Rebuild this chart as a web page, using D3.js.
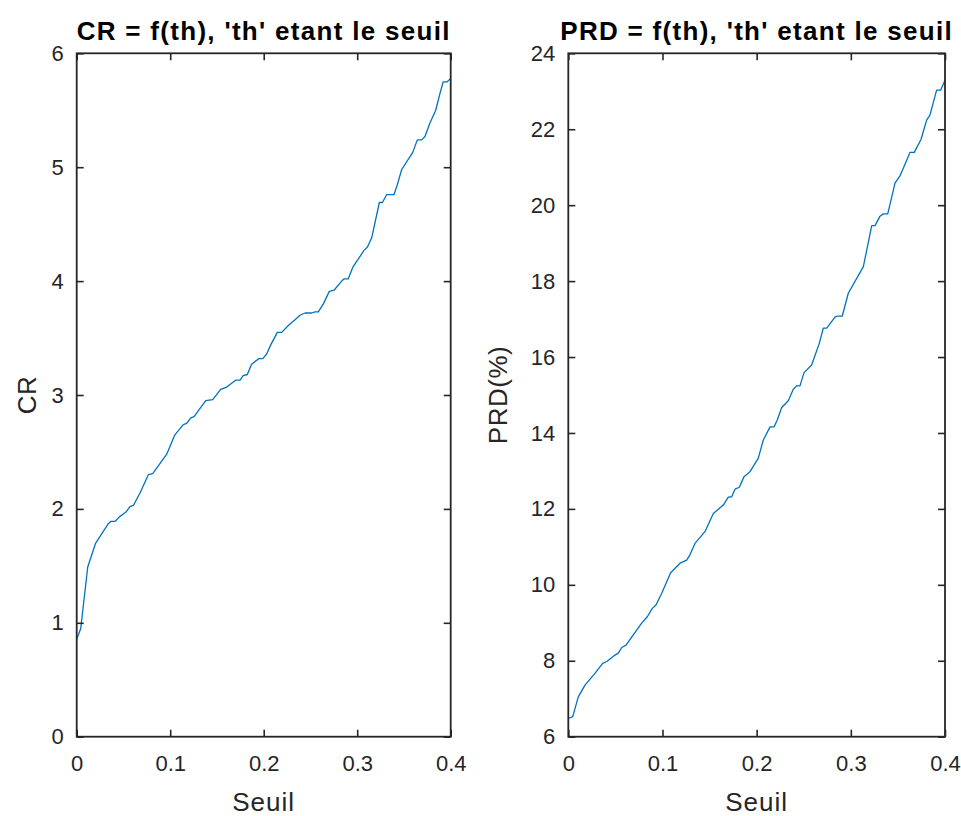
<!DOCTYPE html>
<html>
<head>
<meta charset="utf-8">
<script src="https://cdn.jsdelivr.net/npm/d3@7"></script>
<style>
  html, body { margin: 0; padding: 0; background: #ffffff; }
  svg { display: block; font-family: "Liberation Sans", Arial, Helvetica, sans-serif; }
</style>
</head>
<body>
<svg id="fig" width="961" height="816"></svg>
<script>
// Threshold sweep: compression ratio (CR) against threshold
const crThreshold = [0, 0.0043, 0.0118, 0.0203, 0.0338, 0.0364, 0.041, 0.0456, 0.0524, 0.057,
  0.0606, 0.0677, 0.0766, 0.0813, 0.0963, 0.105, 0.114, 0.1176, 0.122, 0.1255,
  0.138, 0.1455, 0.154, 0.1604, 0.170, 0.1747, 0.178, 0.1825, 0.187, 0.195,
  0.199, 0.2032, 0.2075, 0.2146, 0.2193, 0.2263, 0.2335, 0.2388, 0.2442, 0.2513,
  0.2549, 0.2584, 0.2638, 0.2702, 0.2752, 0.2834, 0.2862, 0.2905, 0.2952, 0.3073,
  0.311, 0.3155, 0.3237, 0.327, 0.3316, 0.3394, 0.3423, 0.3476, 0.3594, 0.3643,
  0.369, 0.3725, 0.3779, 0.384, 0.3886, 0.392, 0.3963, 0.400];
const crValues = [0.855, 0.95, 1.49, 1.70, 1.87, 1.89, 1.89, 1.93, 1.97, 2.02,
  2.03, 2.14, 2.30, 2.31, 2.48, 2.65, 2.74, 2.75, 2.80, 2.81,
  2.95, 2.96, 3.05, 3.07, 3.13, 3.13, 3.17, 3.18, 3.27, 3.32,
  3.32, 3.36, 3.44, 3.55, 3.55, 3.61, 3.66, 3.70, 3.72, 3.72,
  3.73, 3.73, 3.80, 3.91, 3.92, 4.00, 4.02, 4.02, 4.12, 4.27,
  4.30, 4.38, 4.69, 4.69, 4.76, 4.76, 4.83, 4.98, 5.13, 5.24,
  5.24, 5.27, 5.39, 5.50, 5.65, 5.75, 5.75, 5.78];

// Threshold sweep: percentage root-mean-square difference (PRD) against threshold
const prdThreshold = [0, 0.0047, 0.0106, 0.0177, 0.0283, 0.0365, 0.0408, 0.0496, 0.0531, 0.0567,
  0.0613, 0.069, 0.0779, 0.0839, 0.0892, 0.0931, 0.0992, 0.1087, 0.1186, 0.1257,
  0.1292, 0.1345, 0.1451, 0.154, 0.1646, 0.1699, 0.1735, 0.177, 0.1816, 0.1866,
  0.1929, 0.2017, 0.207, 0.2142, 0.2184, 0.2219, 0.2266, 0.2336, 0.2389, 0.2425,
  0.246, 0.2503, 0.2584, 0.2665, 0.2708, 0.2744, 0.2832, 0.2857, 0.2909, 0.2973,
  0.3133, 0.3222, 0.3257, 0.331, 0.3345, 0.3392, 0.3469, 0.3522, 0.3628, 0.3674,
  0.3745, 0.3805, 0.384, 0.3911, 0.3954, 0.40];
const prdValues = [6.48, 6.53, 7.05, 7.36, 7.67, 7.93, 7.98, 8.15, 8.20, 8.35,
  8.41, 8.68, 8.99, 9.16, 9.38, 9.47, 9.78, 10.32, 10.57, 10.65,
  10.79, 11.09, 11.40, 11.88, 12.10, 12.31, 12.32, 12.52, 12.57, 12.85,
  12.98, 13.33, 13.81, 14.16, 14.16, 14.34, 14.67, 14.85, 15.15, 15.24,
  15.24, 15.59, 15.79, 16.36, 16.76, 16.76, 17.05, 17.08, 17.08, 17.68,
  18.38, 19.46, 19.46, 19.71, 19.77, 19.77, 20.58, 20.77, 21.39, 21.39,
  21.73, 22.24, 22.37, 23.03, 23.03, 23.29];

// Tick values and labels
const xTicks = [0, 0.1, 0.2, 0.3, 0.4];
const xTickLabels = ["0", "0.1", "0.2", "0.3", "0.4"];
const crTicks = [0, 1, 2, 3, 4, 5, 6];
const prdTicks = [6, 8, 10, 12, 14, 16, 18, 20, 22, 24];

const titles = ["CR = f(th), 'th' etant le seuil", "PRD = f(th), 'th' etant le seuil"];
const yLabels = ["CR", "PRD(%)"];
const xLabel = "Seuil";

const axisColor = "#262626";
const lineColor = "#0072BD";

const svg = d3.select("#fig");

function panel(opts) {
  const { left, right, top, bottom, xs, ys, yDomain, yTicks, title, yLabel, yLabelX } = opts;
  const x = d3.scaleLinear().domain([0, 0.4]).range([left, right]);
  const y = d3.scaleLinear().domain(yDomain).range([bottom, top]);
  const g = svg.append("g");

  // curve
  const pts = xs.map((v, i) => [v, ys[i]]);
  g.append("path")
    .datum(pts)
    .attr("fill", "none")
    .attr("stroke", lineColor)
    .attr("stroke-width", 1.3)
    .attr("stroke-linejoin", "round")
    .attr("d", d3.line().x(d => x(d[0])).y(d => y(d[1])));

  const fmtX = d => xTickLabels[xTicks.indexOf(d)];
  const styleAxis = sel => {
    sel.select(".domain").remove();
    sel.selectAll(".tick line").attr("stroke", axisColor).attr("stroke-width", 1.6);
    sel.selectAll(".tick text").attr("fill", axisColor).style("font-size", "22px");
  };

  g.append("g").attr("transform", `translate(0,${bottom})`)
    .call(d3.axisBottom(x).tickValues(xTicks).tickFormat(fmtX).tickSize(-7).tickPadding(19))
    .call(styleAxis);
  g.append("g").attr("transform", `translate(0,${top})`)
    .call(d3.axisTop(x).tickValues(xTicks).tickFormat("").tickSize(-7))
    .call(styleAxis);
  g.append("g").attr("transform", `translate(${left},0)`)
    .call(d3.axisLeft(y).tickValues(yTicks).tickFormat(d3.format("d")).tickSize(-7).tickPadding(13))
    .call(styleAxis);
  g.append("g").attr("transform", `translate(${right},0)`)
    .call(d3.axisRight(y).tickValues(yTicks).tickFormat("").tickSize(-7))
    .call(styleAxis);

  // axes box
  g.append("rect")
    .attr("x", left).attr("y", top)
    .attr("width", right - left).attr("height", bottom - top)
    .attr("fill", "none").attr("stroke", axisColor).attr("stroke-width", 1.8);

  const cx = (left + right) / 2;
  g.append("text")
    .attr("x", cx).attr("y", 39.5)
    .attr("text-anchor", "middle")
    .attr("fill", "#000")
    .style("font-size", "26px").style("font-weight", "bold").style("letter-spacing", "1.3px")
    .text(title);

  g.append("text")
    .attr("x", cx).attr("y", 811)
    .attr("text-anchor", "middle")
    .attr("fill", axisColor)
    .style("font-size", "26px").style("letter-spacing", "1px")
    .text(xLabel);

  g.append("text")
    .attr("transform", `translate(${yLabelX},${(top + bottom) / 2}) rotate(-90)`)
    .attr("text-anchor", "middle")
    .attr("fill", axisColor)
    .style("font-size", "26px").style("letter-spacing", "0.5px")
    .text(yLabel);
}

panel({ left: 76.7, right: 450.7, top: 53.3, bottom: 736.7,
  xs: crThreshold, ys: crValues, yDomain: [0, 6], yTicks: crTicks,
  title: titles[0], yLabel: yLabels[0], yLabelX: 36 });

panel({ left: 568.3, right: 945, top: 53.3, bottom: 736.7,
  xs: prdThreshold, ys: prdValues, yDomain: [6, 24], yTicks: prdTicks,
  title: titles[1], yLabel: yLabels[1], yLabelX: 507 });
</script>
</body>
</html>
